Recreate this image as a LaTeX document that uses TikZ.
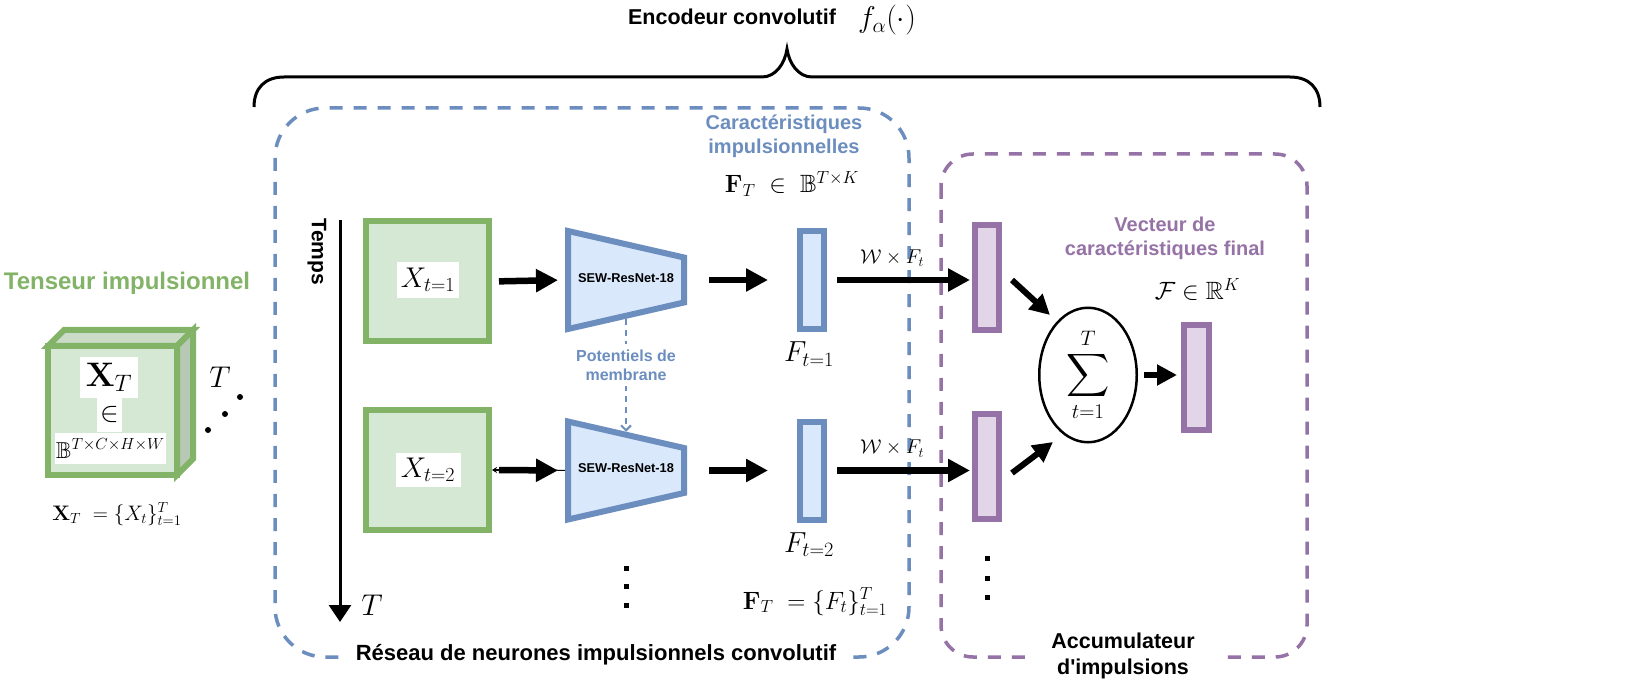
\RequirePackage{fix-cm}
\documentclass[tikz,border=0pt]{standalone}
\DeclareFontFamily{U}{msb}{}
\DeclareFontShape{U}{msb}{m}{n}{<-6>msbm5<6-8>msbm7<8->msbm10}{}
\usepackage{amssymb}
\usepackage[no-math]{fontspec}
\newfontfamily\hv{Liberation Sans}
\usetikzlibrary{arrows.meta,shapes.geometric,calc}

\definecolor{gline}{HTML}{82B366}
\definecolor{gfill}{HTML}{D5E8D4}
\definecolor{gtop}{HTML}{CADBC8}
\definecolor{gside}{HTML}{B7C9B5}
\definecolor{bline}{HTML}{6C8EBF}
\definecolor{bfill}{HTML}{DAE8FC}
\definecolor{pline}{HTML}{9673A6}
\definecolor{pfill}{HTML}{E1D5E7}

\newcommand{\fsz}[2]{\fontsize{#1}{#2}\selectfont}

\tikzset{
  txt/.style={inner sep=0pt, font=\hv\bfseries\fsz{21.5}{26}},
  mth/.style={inner sep=0pt},
  dashbox/.style={line width=3.5pt, dash pattern=on 13pt off 11pt, rounded corners=#1},
  gsquare/.style={draw=gline, fill=gfill, line width=6pt, minimum width=123pt, minimum height=120pt, inner sep=0pt},
  wbox/.style={fill=white, inner sep=0pt},
  bbar/.style={draw=bline, fill=bfill, line width=6pt, minimum width=24pt, minimum height=98pt, inner sep=0pt},
  pbar/.style={draw=pline, fill=pfill, line width=6pt, minimum width=24pt, minimum height=105pt, inner sep=0pt},
  bigarrow/.style={line width=6.5pt, -{Triangle[length=22pt,width=22pt]}},
  midarrow/.style={line width=6pt, -{Triangle[length=20pt,width=20pt]}},
  cubeface/.style={draw=gline, line width=6pt, line join=miter},
  sewshape/.style={draw=bline, fill=bfill, line width=6pt, line join=miter},
  sew/.pic={
    \draw[sewshape] (-58,-49) -- (58,-22.5) -- (58,22.5) -- (-58,49) -- cycle;
    \node[txt, font=\hv\bfseries\fsz{12.8}{15}] (-lbl) at (0,-2) {SEW-ResNet-18};
    \coordinate (-w) at (-61,0);
    \coordinate (-e) at (61,0);
    \coordinate (-n) at (0,-38.75);
    \coordinate (-s) at (0,38.75);
  },
}

\begin{document}
\begin{tikzpicture}[x=1pt,y=-1pt]
\useasboundingbox (0,0) rectangle (1626,684);
\fill[white] (0,0) rectangle (1626,684);

% ---- encoder brace and title ----
\draw[line width=3pt] (254,107) .. controls (254,88) and (265,77) .. (284,77)
  -- (762,77) .. controls (776,77) and (785,63) .. (787,49)
  .. controls (789,63) and (798,77) .. (812,77)
  -- (1290,77) .. controls (1309,77) and (1320,88) .. (1320,107);
\node[txt, anchor=base] (enc) at (732,25) {Encodeur convolutif};
\node[mth, anchor=base, font=\fsz{30}{34}] (falpha) at (887,28) {$f_{\alpha}(\cdot)$};

% ---- dashed group frames ----
\draw[bline, dashbox=50pt] (275,108) rectangle (909,657);
\draw[pline, dashbox=32pt] (941,154) rectangle (1307,657);

% ---- input spike tensor (cube) ----
\node[txt, text=gline, anchor=base, font=\hv\bfseries\fsz{24}{28}] (tens) at (127,290) {Tenseur impulsionnel};
\filldraw[cubeface, fill=gtop] (48,346) -- (64,330) -- (193,330) -- (177,346) -- cycle;
\filldraw[cubeface, fill=gside] (177,346) -- (193,330) -- (193,459) -- (177,475) -- cycle;
\filldraw[cubeface, fill=gfill] (48,346) rectangle (177,475);
\node[wbox, minimum width=58pt, minimum height=41pt, font=\fsz{34}{38}] (xT) at (109,377.5) {$\mathbf{X}_T$};
\node[wbox, minimum width=25pt, minimum height=35pt, font=\fsz{28}{32}] (inT) at (109.5,415) {$\in$};
\node[wbox, minimum width=111pt, minimum height=31pt, font=\fsz{23}{27}] (bT) at (110.5,448.5) {$\mathbb{B}^{T\times C\times H\times W}$};
\node[mth, anchor=base, font=\fsz{30}{34}] (tcube) at (220,388) {$T$};
\fill (208,430) circle (3pt) (225,414) circle (3pt) (240,397) circle (3pt);
\node[mth, anchor=base, font=\fsz{21}{25}] (xeq) at (117,520) {$\mathbf{X}_T\;=\{X_t\}_{t=1}^{T}$};

% ---- time axis ----
\coordinate (tTop) at (340,220);
\coordinate (tBot) at (340,622);
\draw[line width=3pt, -{Triangle[length=17pt,width=22pt]}] (tTop) -- (tBot);
\node[txt, rotate=-90, font=\hv\bfseries\fsz{21}{25}] (temps) at (317,252) {Temps};
\node[mth, anchor=base, font=\fsz{30}{34}] (tlab) at (372,615) {$T$};

% ---- time steps ----
\node[gsquare] (gA) at (427.5,281.5) {};
\node[wbox, minimum width=62pt, minimum height=36pt, font=\fsz{28.5}{33}] (xA) at (428,280) {$X_{t=1}$};
\node[gsquare] (gB) at (427.5,470) {};
\node[wbox, minimum width=65pt, minimum height=34pt, font=\fsz{28.5}{33}] (xB) at (428,470) {$X_{t=2}$};

\pic (sewA) at (626,280) {sew};
\pic (sewB) at (626,470.5) {sew};

\node[bbar] (bA) at (812,280) {};
\node[bbar] (bB) at (812,471) {};
\node[mth, anchor=base, font=\fsz{29}{33}] (fA) at (809,362) {$F_{t=1}$};
\node[mth, anchor=base, font=\fsz{29}{33}] (fB) at (809,552) {$F_{t=2}$};

\node[pbar] (pA) at (987,277.5) {};
\node[pbar] (pB) at (987,466.5) {};

% connectors, first row
\draw[bigarrow, shorten <=7pt, shorten >=7pt] (gA.east) -- (sewA-w);
\draw[bigarrow, shorten <=22pt, shorten >=29pt] (sewA-e) -- (sewA-e -| bA.west);
\draw[bigarrow, shorten <=10pt, shorten >=2pt] (bA.east) -- (bA.east -| pA.west);
\node[mth, anchor=base, font=\fsz{20}{24}] (wA) at (892,264) {$\mathcal{W}\times F_t$};

% connectors, second row
\coordinate (tailB) at (500,470);
\draw[line width=1.5pt, -{Stealth[length=5pt,width=6pt]}] (tailB) -- (gB.east);
\draw[line width=1pt] (550,470) -- (sewB-w);
\draw[bigarrow, shorten <=7pt, shorten >=7pt] (gB.east) -- (sewB-w);
\draw[bigarrow, shorten <=22pt, shorten >=29pt] (sewB-e) -- (sewB-e -| bB.west);
\draw[bigarrow, shorten <=10pt, shorten >=2pt] (bB.east |- sewB-e) -- (sewB-e -| pB.west);
\node[mth, anchor=base, font=\fsz{20}{24}] (wB) at (892,454) {$\mathcal{W}\times F_t$};

% membrane potential carried to the next step
\draw[bline, line width=2pt, dash pattern=on 6pt off 5pt, -{Straight Barb[length=5pt,width=10pt]}] (sewA-s) -- (sewB-n);
\node[txt, text=bline, fill=white, inner xsep=2pt, inner ysep=6pt, align=center, font=\hv\bfseries\fsz{16}{19}] (pot) at (626,365) {Potentiels de\\membrane};

% ellipsis marks
\fill (623.5,565.5) rectangle (628.5,570.5);
\fill (623.5,583.5) rectangle (628.5,588.5);
\fill (623.5,602.5) rectangle (628.5,607.5);
\fill (984.5,555.5) rectangle (989.5,560.5);
\fill (984.5,575.5) rectangle (989.5,580.5);
\fill (984.5,594.5) rectangle (989.5,599.5);

% feature labels
\node[txt, text=bline, align=center, font=\hv\bfseries\fsz{20}{23.5}] (carac) at (784,136) {Caractéristiques\\impulsionnelles};
\node[mth, anchor=base, font=\fsz{25}{30}] (ftb) at (792,193) {$\mathbf{F}_T\;\in\;\mathbb{B}^{T\times K}$};
\node[mth, anchor=base, font=\fsz{25}{29}] (feq) at (815,609) {$\mathbf{F}_T\;=\{F_t\}_{t=1}^{T}$};

% ---- spike accumulator ----
\node[draw, ellipse, line width=2.5pt, minimum width=97.5pt, minimum height=134.5pt, inner sep=0pt] (sum) at (1088,375) {};
\node[mth, font=\fsz{30}{34}] (sumlbl) at (1088,375) {$\displaystyle\sum_{t=1}^{T}$};
\coordinate (a1s) at (1012,280);
\coordinate (a1e) at (1050,315);
\coordinate (a2s) at (1012,473);
\coordinate (a2e) at (1053,442);
\draw[midarrow] (a1s) -- (a1e);
\draw[midarrow] (a2s) -- (a2e);
\node[pbar, minimum width=25pt] (fin) at (1196.5,377.5) {};
\draw[midarrow, shorten <=6pt, shorten >=4pt] (sum.east) -- (sum.east -| fin.west);
\node[txt, text=pline, align=center, font=\hv\bfseries\fsz{20}{24}] (vec) at (1165,238.5) {Vecteur de\\caractéristiques final};
\node[mth, anchor=base, font=\fsz{25}{30}] (fK) at (1197.5,300) {$\mathcal{F}\in\mathbb{R}^{K}$};

% ---- frame captions ----
\node[txt, fill=white, inner xsep=14pt, inner ysep=4pt, anchor=base, font=\hv\bfseries\fsz{22}{26}] (res) at (596,660) {Réseau de neurones impulsionnels convolutif};
\node[txt, fill=white, inner xsep=25pt, inner ysep=3pt, align=center] (acc) at (1123,656) {Accumulateur\\d\textquotesingle impulsions};
\end{tikzpicture}
\end{document}
